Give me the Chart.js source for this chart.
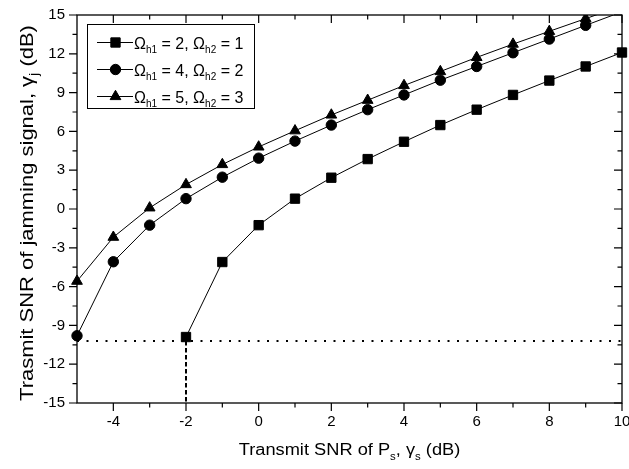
<!DOCTYPE html>
<html><head><meta charset="utf-8">
<script src="https://cdn.jsdelivr.net/npm/chart.js@4/dist/chart.umd.min.js"></script>
<style>html,body{margin:0;padding:0;background:#fff}#wrap{width:629px;height:469px;position:relative}canvas{display:block}</style>
</head><body><div id="wrap"><canvas id="c" width="629" height="469" style="width:629px;height:469px"></canvas></div>
<script>
// ---- data ----
const xValues = [-5,-4,-3,-2,-1,0,1,2,3,4,5,6,7,8,9,10];
const seriesA = [null,null,null,-9.9,-4.1,-1.25,0.8,2.42,3.86,5.2,6.49,7.68,8.82,9.93,11.02,12.1];      // Ωh1=2, Ωh2=1
const seriesB = [-9.8,-4.08,-1.25,0.8,2.46,3.93,5.25,6.49,7.68,8.82,9.96,11.02,12.08,13.14,14.2,15.25]; // Ωh1=4, Ωh2=2
const seriesC = [-5.58,-2.18,0.09,1.89,3.44,4.8,6.05,7.27,8.41,9.55,10.63,11.72,12.75,13.74,14.72,15.7]; // Ωh1=5, Ωh2=3
const seriesLabels = ['Ω_{h1} = 2, Ω_{h2} = 1','Ω_{h1} = 4, Ω_{h2} = 2','Ω_{h1} = 5, Ω_{h2} = 3'];
const xTicks = [-4,-2,0,2,4,6,8,10];
const yTicks = [-15,-12,-9,-6,-3,0,3,6,9,12,15];
const thresholdY = -10.2;
const thresholdX = -2;
const xTitle = 'Transmit SNR of P_{s}, γ_{s} (dB)';
const yTitle = 'Trasmit SNR of jamming signal, γ_{j} (dB)';

const X_MIN = -5, X_MAX = 10, Y_MIN = -15, Y_MAX = 15;
const FAM = '"Liberation Sans", Arial, Helvetica, sans-serif';

function pts(ys){ return xValues.map((x,i)=>({x:x,y:ys[i]})); }

function parseRich(s){
  const parts=[]; const re=/_\{([^}]*)\}/g; let last=0,m;
  while((m=re.exec(s))){ if(m.index>last) parts.push({t:s.slice(last,m.index),sub:false}); parts.push({t:m[1],sub:true}); last=re.lastIndex; }
  if(last<s.length) parts.push({t:s.slice(last),sub:false});
  return parts;
}
function drawRich(ctx, text, x, y, size, align, stretch, rot){
  const parts=parseRich(text); const subSize=Math.round(size*0.64);
  let w=0;
  parts.forEach(p=>{ ctx.font=(p.sub?subSize:size)+'px '+FAM; p.w=ctx.measureText(p.t).width; w+=p.w; });
  ctx.save();
  ctx.translate(x,y); if(rot) ctx.rotate(rot); ctx.scale(stretch,1);
  let cx = align==='center' ? -w/2 : 0;
  ctx.textBaseline='alphabetic'; ctx.textAlign='left'; ctx.fillStyle='#000';
  parts.forEach(p=>{ ctx.font=(p.sub?subSize:size)+'px '+FAM; ctx.fillText(p.t,cx,p.sub?size*0.3:0); cx+=p.w; });
  ctx.restore();
}

const framePlugin = {
  id:'frame',
  afterDatasetsDraw(chart){
    const {ctx, chartArea:a, scales:{x,y}} = chart;
    ctx.save();
    ctx.strokeStyle='#000'; ctx.lineWidth=1.3;
    ctx.strokeRect(a.left, a.top, a.right-a.left, a.bottom-a.top);
    const MAJ=8, MIN=4.5;
    ctx.lineWidth=1.2;
    ctx.beginPath();
    const xs=[]; xTicks.forEach((v,i)=>{ xs.push([v,MAJ]); if(i<xTicks.length-1) xs.push([(v+xTicks[i+1])/2,MIN]); });
    xs.forEach(([v,L])=>{ const px=x.getPixelForValue(v);
      ctx.moveTo(px,a.bottom); ctx.lineTo(px,a.bottom+L);
      ctx.moveTo(px,a.top); ctx.lineTo(px,a.top+L); });
    const ys=[]; yTicks.forEach((v,i)=>{ ys.push([v,MAJ]); if(i<yTicks.length-1) ys.push([(v+yTicks[i+1])/2,MIN]); });
    ys.forEach(([v,L])=>{ const py=y.getPixelForValue(v);
      ctx.moveTo(a.left,py); ctx.lineTo(a.left-L,py);
      ctx.moveTo(a.right,py); ctx.lineTo(a.right-L,py); });
    ctx.stroke();
    ctx.restore();
  },
  afterDraw(chart){
    const {ctx, chartArea:a} = chart;
    drawRich(ctx, xTitle, (a.left+a.right)/2, 455, 16, 'center', 1.14, 0);
    drawRich(ctx, yTitle, 33, (a.top+a.bottom)/2+4, 18, 'center', 1.22, -Math.PI/2);
    const bx=a.left+10, by=a.top+9, bw=167, bh=84;
    ctx.save();
    ctx.fillStyle='#fff'; ctx.fillRect(bx,by,bw,bh);
    ctx.strokeStyle='#000'; ctx.lineWidth=1; ctx.strokeRect(bx+0.5,by+0.5,bw,bh);
    const rows=[by+18.5, by+45.5, by+72.5];
    chart.data.datasets.forEach((ds)=>{
      if(ds.legendRow===undefined) return;
      const ry=rows[ds.legendRow];
      ctx.strokeStyle='#000'; ctx.lineWidth=1;
      ctx.beginPath(); ctx.moveTo(bx+10,ry); ctx.lineTo(bx+46,ry); ctx.stroke();
      ctx.fillStyle='#000';
      Chart.helpers.drawPoint(ctx,{pointStyle:ds.pointStyle,radius:ds.legendRadius,rotation:0,borderWidth:1},bx+28.5,ry);
      drawRich(ctx, ds.label, bx+47, ry+6, 16, 'left', 1.0, 0);
    });
    ctx.restore();
  }
};

const clipArea = {left:8, top:0, right:8, bottom:8};
function radiusFor(r){ return ctx => { const v = ctx.raw; return (v && v.y !== null && v.y > Y_MAX) ? 0 : r; }; }
const common = {borderColor:'#000', backgroundColor:'#000', borderWidth:1, pointBorderWidth:1,
  pointBackgroundColor:'#000', pointBorderColor:'#000', tension:0, spanGaps:false, clip:clipArea};

new Chart(document.getElementById('c'), {
  type:'line',
  data:{ datasets:[
    {label:'threshold', data:[{x:X_MIN,y:thresholdY},{x:X_MAX,y:thresholdY}], borderColor:'#000', borderWidth:2, borderDash:[2,7.5], pointRadius:0, clip:clipArea},
    {label:'threshold-x', data:[{x:thresholdX,y:thresholdY},{x:thresholdX,y:Y_MIN}], borderColor:'#000', borderWidth:2, borderDash:[4.5,2.5], pointRadius:0, clip:clipArea},
    Object.assign({label:seriesLabels[0], data:pts(seriesA), pointStyle:'rect', pointRadius:radiusFor(6.6), legendRadius:6.6, legendRow:0}, common),
    Object.assign({label:seriesLabels[1], data:pts(seriesB), pointStyle:'circle', pointRadius:radiusFor(5.2), legendRadius:5.2, legendRow:1}, common),
    Object.assign({label:seriesLabels[2], data:pts(seriesC), pointStyle:'triangle', pointRadius:radiusFor(6.2), legendRadius:6.2, legendRow:2}, common)
  ]},
  options:{
    responsive:false, animation:false, devicePixelRatio:1,
    layout:{padding:{left:0,top:15,right:7,bottom:0}, autoPadding:false},
    plugins:{legend:{display:false}, tooltip:{enabled:false}, title:{display:false}},
    scales:{
      x:{type:'linear', min:X_MIN, max:X_MAX,
        afterBuildTicks:s=>{ s.ticks = xTicks.map(v=>({value:v})); },
        afterFit:s=>{ s.height=66; s.paddingLeft=0; s.paddingRight=0; },
        grid:{display:false, drawTicks:false}, border:{display:false},
        ticks:{color:'#000', font:{family:FAM, size:15}, padding:10, maxRotation:0, autoSkip:false}},
      y:{type:'linear', min:Y_MIN, max:Y_MAX,
        afterBuildTicks:s=>{ s.ticks = yTicks.map(v=>({value:v})); },
        afterFit:s=>{ s.width=77; s.paddingTop=0; s.paddingBottom=0; },
        grid:{display:false, drawTicks:false}, border:{display:false},
        ticks:{color:'#000', font:{family:FAM, size:15}, padding:12, autoSkip:false}}
    }
  },
  plugins:[framePlugin]
});
</script></body></html>
